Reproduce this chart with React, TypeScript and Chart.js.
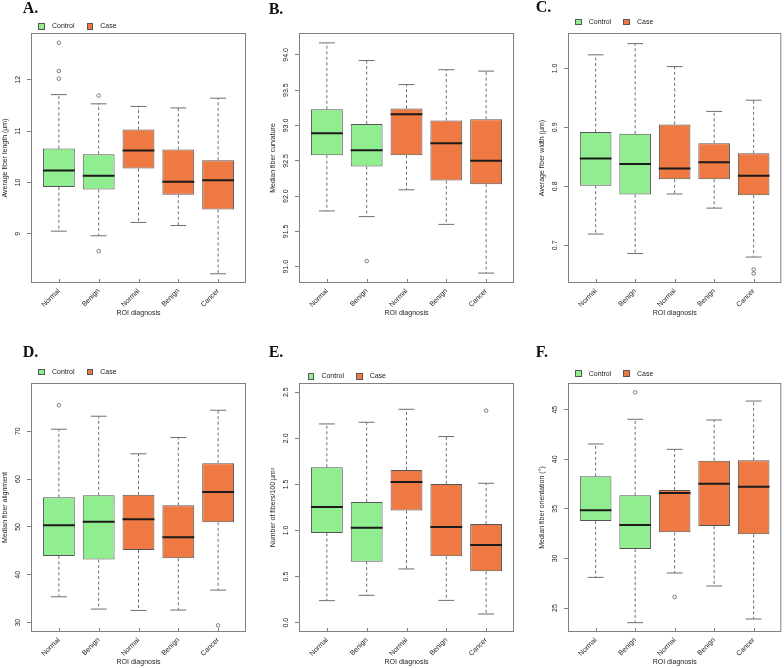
import React, { useEffect, useRef } from 'react';
import { Chart, registerables } from 'chart.js';

Chart.register(...registerables);

// ---------------- data ----------------
const categories = ['Normal', 'Benign', 'Normal', 'Benign', 'Cancer'];
const groups = ['Control', 'Control', 'Case', 'Case', 'Case'];
const legendLabels = ['Control', 'Case'];
const xTitle = 'ROI diagnosis';

// five-number summaries: [lower whisker, Q1, median, Q3, upper whisker]
const lengthBoxes = [
  [9.05, 9.91, 10.23, 10.66, 11.71],
  [8.96, 9.86, 10.13, 10.55, 11.53],
  [9.22, 10.27, 10.62, 11.03, 11.48],
  [9.16, 9.76, 10.01, 10.64, 11.45],
  [8.22, 9.47, 10.04, 10.43, 11.64],
];
const lengthOutliers = [[12.72, 12.17, 12.02], [11.69, 8.66], [], [], []];
const lengthTicks = [9, 10, 11, 12];
const lengthRange = [8.04, 12.91];

const curvatureBoxes = [
  [91.79, 92.58, 92.89, 93.23, 94.17],
  [91.71, 92.42, 92.65, 93.02, 93.92],
  [92.09, 92.58, 93.16, 93.24, 93.58],
  [91.6, 92.22, 92.75, 93.07, 93.79],
  [90.91, 92.17, 92.5, 93.09, 93.77],
];
const curvatureOutliers = [[], [91.08], [], [], []];
const curvatureTicks = [91.0, 91.5, 92.0, 92.5, 93.0, 93.5, 94.0];
const curvatureRange = [90.77, 94.31];

const widthBoxes = [
  [0.719, 0.801, 0.847, 0.892, 1.023],
  [0.686, 0.786, 0.838, 0.889, 1.042],
  [0.787, 0.812, 0.83, 0.905, 1.003],
  [0.763, 0.812, 0.841, 0.873, 0.927],
  [0.68, 0.785, 0.818, 0.856, 0.946],
];
const widthOutliers = [[], [], [], [], [0.659, 0.652]];
const widthTicks = [0.7, 0.8, 0.9, 1.0];
const widthRange = [0.636, 1.06];

const alignmentBoxes = [
  [35.42, 43.96, 50.35, 56.18, 70.42],
  [32.85, 43.2, 51.1, 56.6, 73.13],
  [32.57, 45.2, 51.6, 56.74, 65.28],
  [32.64, 43.47, 47.85, 54.51, 68.68],
  [36.81, 50.97, 57.29, 63.33, 74.38],
];
const alignmentOutliers = [[75.42], [], [], [], [29.44]];
const alignmentTicks = [30, 40, 50, 60, 70];
const alignmentRange = [28.06, 80.07];

const densityBoxes = [
  [0.239, 0.973, 1.255, 1.686, 2.156],
  [0.297, 0.662, 1.031, 1.31, 2.174],
  [0.583, 1.216, 1.527, 1.657, 2.315],
  [0.242, 0.72, 1.038, 1.505, 2.019],
  [0.094, 0.557, 0.843, 1.071, 1.512],
];
const densityOutliers = [[], [], [], [], [2.3]];
const densityTicks = [0.0, 0.5, 1.0, 1.5, 2.0, 2.5];
const densityRange = [-0.101, 2.6];

const orientationBoxes = [
  [28.09, 33.77, 34.87, 38.28, 41.54],
  [23.52, 30.95, 33.37, 36.36, 44.03],
  [28.53, 32.63, 36.6, 36.9, 41.0],
  [27.22, 33.27, 37.54, 39.86, 43.96],
  [23.89, 32.43, 37.24, 39.89, 45.87],
];
const orientationOutliers = [[], [46.75], [26.11], [], []];
const orientationTicks = [25, 30, 35, 40, 45];
const orientationRange = [22.58, 47.69];

// ---------------- styles ----------------
const GREEN = '#90EE90';
const ORANGE = '#EE7942';
const BOX_BORDER = '#555555';
const WHISKER = '#6e6e6e';
const FRAME = '#808080';
const MEDIAN = '#1a1a1a';
const TEXT = '#222222';
const SANS = '"Liberation Sans", Arial, Helvetica, sans-serif';
const SERIF = '"Liberation Serif", "Times New Roman", serif';
const FONT_SIZE = 7;
const TICK_LEN = 4;
const LABEL_DIST = 13;
const TITLE_DIST = 26;
const X_AXIS_H = 36;
const HALF_BOX = 0.4;
const HALF_CAP = 0.2;

Chart.defaults.font.family = SANS;
Chart.defaults.font.size = FONT_SIZE;
Chart.defaults.color = TEXT;

const colorOf = (g: string) => (g === 'Control' ? GREEN : ORANGE);

type PanelDef = {
  letter: string;
  letterX: number;
  letterBase: number;
  boxes: number[][];
  outliers: number[][];
  ticks: number[];
  decimals: number;
  range: number[];
  yTitle: string;
  cx: number;
  cy: number;
  cw: number;
  ch: number;
  yW: number;
  padTop: number;
  padRight: number;
  legend: { x: number; y: number } | null;
};

const panels: PanelDef[] = [
  {
    letter: 'A.', letterX: 22.7, letterBase: 13.3,
    boxes: lengthBoxes, outliers: lengthOutliers, ticks: lengthTicks, decimals: 0, range: lengthRange,
    yTitle: 'Average fiber length (µm)',
    cx: 0, cy: 0, cw: 262, ch: 319, yW: 31, padTop: 33, padRight: 16, legend: { x: 38.3, y: 26.3 },
  },
  {
    letter: 'B.', letterX: 268.7, letterBase: 14,
    boxes: curvatureBoxes, outliers: curvatureOutliers, ticks: curvatureTicks, decimals: 1, range: curvatureRange,
    yTitle: 'Median fiber curvature',
    cx: 262, cy: 0, cw: 262, ch: 319, yW: 37, padTop: 33, padRight: 10, legend: null,
  },
  {
    letter: 'C.', letterX: 535.7, letterBase: 12.7,
    boxes: widthBoxes, outliers: widthOutliers, ticks: widthTicks, decimals: 1, range: widthRange,
    yTitle: 'Average fiber width (µm)',
    cx: 524, cy: 0, cw: 260, ch: 319, yW: 44, padTop: 33, padRight: 1, legend: { x: 575, y: 22 },
  },
  {
    letter: 'D.', letterX: 22.7, letterBase: 357.3,
    boxes: alignmentBoxes, outliers: alignmentOutliers, ticks: alignmentTicks, decimals: 0, range: alignmentRange,
    yTitle: 'Median fiber alignment',
    cx: 0, cy: 334, cw: 262, ch: 334, yW: 31, padTop: 49, padRight: 16, legend: { x: 38.3, y: 372 },
  },
  {
    letter: 'E.', letterX: 268.7, letterBase: 357.3,
    boxes: densityBoxes, outliers: densityOutliers, ticks: densityTicks, decimals: 1, range: densityRange,
    yTitle: 'Number of fibers/100 µm²',
    cx: 262, cy: 334, cw: 262, ch: 334, yW: 37, padTop: 49, padRight: 10, legend: { x: 307.7, y: 376.3 },
  },
  {
    letter: 'F.', letterX: 535.7, letterBase: 357.3,
    boxes: orientationBoxes, outliers: orientationOutliers, ticks: orientationTicks, decimals: 0, range: orientationRange,
    yTitle: 'Median fiber orientation (°)',
    cx: 524, cy: 334, cw: 260, ch: 334, yW: 44, padTop: 49, padRight: 1, legend: { x: 575, y: 373.7 },
  },
];

function measureWidest(labels: string[]): number {
  const c = document.createElement('canvas').getContext('2d');
  if (!c) return 10;
  c.font = `${FONT_SIZE}px ${SANS}`;
  return Math.max(...labels.map((l) => c.measureText(l).width));
}

const framePlugin = {
  id: 'frameAndInnerTicks',
  afterDraw(chart: any) {
    const { ctx, chartArea: a, scales } = chart;
    ctx.save();
    ctx.strokeStyle = FRAME;
    ctx.lineWidth = 1;
    ctx.strokeRect(a.left + 0.5, a.top + 0.5, a.right - a.left - 1, a.bottom - a.top - 1);
    const xs = scales.x;
    ctx.beginPath();
    xs.ticks.forEach((t: any) => {
      const px = Math.round(xs.getPixelForValue(t.value)) + 0.5;
      ctx.moveTo(px, a.bottom);
      ctx.lineTo(px, a.bottom - TICK_LEN);
    });
    ctx.stroke();
    ctx.restore();
  },
};

function Panel({ p }: { p: PanelDef }) {
  const ref = useRef<HTMLCanvasElement | null>(null);
  useEffect(() => {
    if (!ref.current) return;
    const xs = categories.map((_, i) => i + 1);
    const gap = (x: number) => ({ x, y: null as any });
    const boxData = p.boxes.map((b, i) => ({ x: xs[i], y: [b[1], b[3]] }));
    const whiskerData = p.boxes.flatMap((b, i) => [
      { x: xs[i], y: b[3] }, { x: xs[i], y: b[4] }, gap(xs[i]),
      { x: xs[i], y: b[1] }, { x: xs[i], y: b[0] }, gap(xs[i]),
    ]);
    const capData = p.boxes.flatMap((b, i) => [
      { x: xs[i] - HALF_CAP, y: b[4] }, { x: xs[i] + HALF_CAP, y: b[4] }, gap(xs[i]),
      { x: xs[i] - HALF_CAP, y: b[0] }, { x: xs[i] + HALF_CAP, y: b[0] }, gap(xs[i]),
    ]);
    const medianData = p.boxes.flatMap((b, i) => [
      { x: xs[i] - HALF_BOX, y: b[2] }, { x: xs[i] + HALF_BOX, y: b[2] }, gap(xs[i]),
    ]);
    const outlierData = p.outliers.flatMap((o, i) => o.map((v) => ({ x: xs[i], y: v })));

    const tickLabels = p.ticks.map((v) => v.toFixed(p.decimals));
    const widest = measureWidest(tickLabels);
    const yTickPad = LABEL_DIST - TICK_LEN - widest / 2;

    const lineCommon = {
      type: 'line' as const,
      pointRadius: 0,
      pointHoverRadius: 0,
      fill: false,
      spanGaps: false,
      tension: 0,
      borderWidth: 1,
    };

    const chart = new Chart(ref.current, {
      type: 'bar',
      data: {
        datasets: [
          {
            type: 'bar',
            data: boxData as any,
            backgroundColor: groups.map(colorOf),
            borderColor: BOX_BORDER,
            borderWidth: 1,
            borderSkipped: false,
            barPercentage: 0.8,
            categoryPercentage: 1,
            order: 5,
          } as any,
          { ...lineCommon, data: whiskerData, borderColor: WHISKER, borderDash: [3, 2.5], order: 4 } as any,
          { ...lineCommon, data: capData, borderColor: WHISKER, order: 3 } as any,
          { ...lineCommon, data: medianData, borderColor: MEDIAN, borderWidth: 2, borderCapStyle: 'butt', order: 1 } as any,
          {
            type: 'scatter',
            data: outlierData,
            pointRadius: 1.8,
            pointHoverRadius: 1.8,
            pointBackgroundColor: 'rgba(0,0,0,0)',
            pointBorderColor: WHISKER,
            pointBorderWidth: 0.9,
            showLine: false,
            order: 0,
          } as any,
        ],
      },
      options: {
        responsive: false,
        animation: false,
        events: [],
        layout: { padding: { top: p.padTop, right: p.padRight, bottom: 0, left: 0 } },
        plugins: { legend: { display: false }, tooltip: { enabled: false }, title: { display: false } },
        scales: {
          x: {
            type: 'linear',
            min: 0.3,
            max: 5.7,
            offset: false,
            grid: { display: false, drawTicks: false, offset: false },
            border: { display: false },
            afterBuildTicks: (s: any) => {
              s.ticks = xs.map((v) => ({ value: v }));
            },
            afterFit: (s: any) => {
              s.height = X_AXIS_H;
            },
            ticks: {
              autoSkip: false,
              minRotation: 45,
              maxRotation: 45,
              padding: 4,
              color: TEXT,
              callback: (_v: any, i: number) => categories[i],
            },
            title: {
              display: true,
              text: xTitle,
              color: TEXT,
              font: { size: FONT_SIZE, lineHeight: 1 },
              padding: { top: 0, bottom: 2.5 },
            },
          },
          y: {
            type: 'linear',
            min: p.range[0],
            max: p.range[1],
            beginAtZero: false,
            grid: { display: true, drawOnChartArea: false, drawTicks: true, tickLength: TICK_LEN, color: FRAME },
            border: { display: false },
            afterBuildTicks: (s: any) => {
              s.ticks = p.ticks.map((v) => ({ value: v }));
            },
            afterFit: (s: any) => {
              s.width = p.yW;
            },
            ticks: {
              autoSkip: false,
              minRotation: 90,
              maxRotation: 90,
              crossAlign: 'center',
              padding: yTickPad,
              color: TEXT,
              callback: (_v: any, i: number) => tickLabels[i],
            },
            title: {
              display: true,
              text: p.yTitle,
              color: TEXT,
              font: { size: FONT_SIZE, lineHeight: 1 },
              padding: { top: p.yW - TITLE_DIST - FONT_SIZE / 2, bottom: 0 },
            },
          },
        },
      } as any,
      plugins: [framePlugin],
    });
    return () => chart.destroy();
  }, [p]);

  return (
    <canvas
      ref={ref}
      width={p.cw}
      height={p.ch}
      style={{ position: 'absolute', left: p.cx, top: p.cy, width: p.cw, height: p.ch }}
    />
  );
}

function Legend({ x, y }: { x: number; y: number }) {
  const sq = (c: string, ml: number): React.CSSProperties => ({
    display: 'inline-block',
    width: 6.7,
    height: 6.7,
    boxSizing: 'border-box',
    border: `1px solid ${BOX_BORDER}`,
    background: c,
    marginLeft: ml,
    marginRight: 7,
  });
  return (
    <div
      style={{
        position: 'absolute',
        left: x,
        top: y - 5,
        height: 10,
        display: 'flex',
        alignItems: 'center',
        fontFamily: SANS,
        fontSize: FONT_SIZE,
        color: TEXT,
        whiteSpace: 'nowrap',
        lineHeight: '10px',
      }}
    >
      <span style={sq(GREEN, 0)} />
      <span>{legendLabels[0]}</span>
      <span style={sq(ORANGE, 12)} />
      <span>{legendLabels[1]}</span>
    </div>
  );
}

export default function App() {
  return (
    <div
      style={{
        position: 'absolute',
        left: 0,
        top: 0,
        width: 784,
        height: 668,
        background: '#ffffff',
        overflow: 'hidden',
      }}
    >
      {panels.map((p) => (
        <React.Fragment key={p.letter}>
          <Panel p={p} />
          <div
            style={{
              position: 'absolute',
              left: p.letterX,
              top: p.letterBase - 13.4,
              fontFamily: SERIF,
              fontWeight: 'bold',
              fontSize: 16,
              lineHeight: '16px',
              color: '#111',
              whiteSpace: 'nowrap',
            }}
          >
            {p.letter}
          </div>
          {p.legend && <Legend x={p.legend.x} y={p.legend.y} />}
        </React.Fragment>
      ))}
    </div>
  );
}
